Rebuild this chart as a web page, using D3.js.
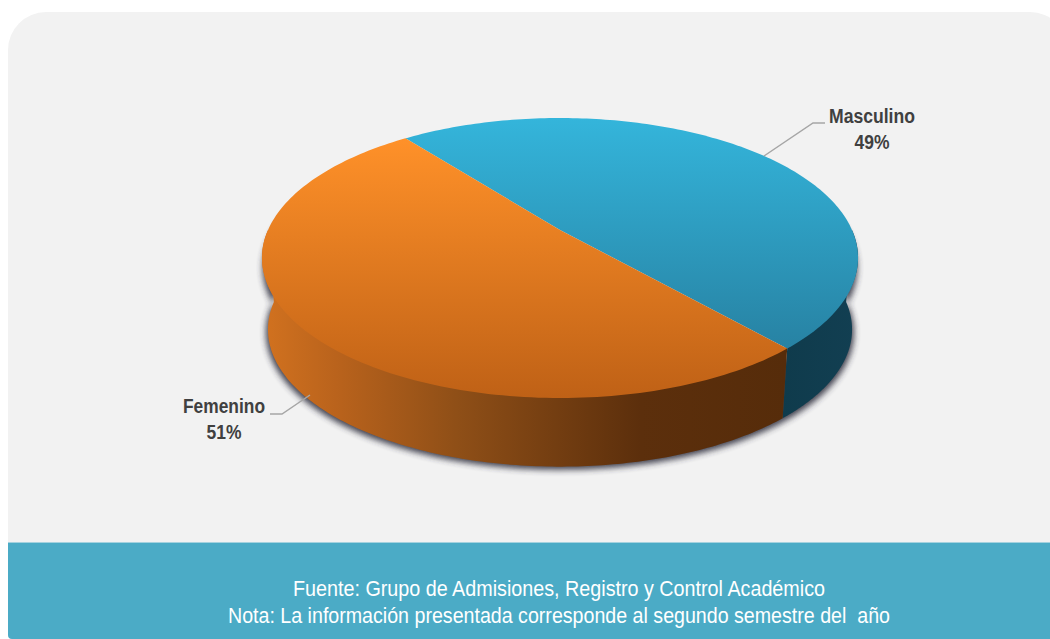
<!DOCTYPE html>
<html><head><meta charset="utf-8">
<script src="https://cdn.jsdelivr.net/npm/d3@7"></script>
<style>html,body{margin:0;padding:0;background:#fff}svg{display:block}</style>
</head><body><div id="c"></div>
<script>
const categories = ["Masculino", "Femenino"];
const values = [49, 51];
const valueLabels = ["49%", "51%"];
const footerLines = [
  "Fuente: Grupo de Admisiones, Registro y Control Académico",
  "Nota: La información presentada corresponde al segundo semestre del  año"
];
const W = 1050, H = 639;
const svg = d3.select("#c").append("svg").attr("width", W).attr("height", H);
const defs = svg.append("defs");
function grad(id, x2, y2, stops){
  const g = defs.append("linearGradient").attr("id", id).attr("x1",0).attr("y1",0).attr("x2",x2).attr("y2",y2);
  stops.forEach(s => g.append("stop").attr("offset", s[0]).attr("stop-color", s[1]));
}
grad("topBlue",0,1,[[0,"#34B5DB"],[1,"#2782A3"]]);
grad("topOrange",0,1,[[0,"#FF9129"],[1,"#BF6116"]]);
grad("sideOrange",1,0,[[0,"#D2721F"],[0.15,"#B8621C"],[0.37,"#8F4F17"],[0.72,"#5C2F0C"],[1,"#562C0A"]]);
grad("sideBlue",1,0,[[0,"#0F3B4C"],[1,"#123F52"]]);
const blur = defs.append("filter").attr("id","shadow").attr("x","-10%").attr("y","-10%").attr("width","120%").attr("height","130%");
blur.append("feGaussianBlur").attr("stdDeviation",3);

// panel
svg.append("rect").attr("x",8).attr("y",12).attr("width",1060).attr("height",600).attr("rx",38).attr("fill","#F2F2F2");
const foot = d3.path();
foot.moveTo(8,543); foot.lineTo(1050,543); foot.lineTo(1050,639); foot.lineTo(12,639);
foot.quadraticCurveTo(8,639,8,635); foot.closePath();
svg.append("path").attr("fill","#4BABC6").attr("d",foot.toString());
svg.append("rect").attr("x",8).attr("y",542).attr("width",1042).attr("height",1).attr("fill","#A5D2DF");

// 3D pie projection
const cx = 560, apexY = 230, R = 292, A = 134.4, persp = 0.2;
const DEPTH = 72;
function project(a, depth){
  const u = Math.sin(a), v = -Math.cos(a);
  const w = 1 - persp*v;
  const scale = 1 - depth*0.02/DEPTH;
  return [cx + u*R/w*scale, apexY + v*A/w*scale + depth];
}
const deg = d => d*Math.PI/180;
const arcs = d3.pie().sort(null).startAngle(deg(-37.8)).endAngle(deg(322.2)).value(d=>d)(values);
const line = d3.line();
const samples = (a0,a1,n=160) => d3.range(n+1).map(i => a0+(a1-a0)*i/n);

// shadow following the lower silhouette
svg.append("path")
  .attr("d", line(samples(deg(75),deg(288)).map(a=>{const p=project(a,DEPTH);return [p[0]+(p[0]<cx?-2:2),p[1]+3];}).concat(samples(deg(288),deg(75)).map(a=>project(a,10))))+"Z")
  .attr("fill","#2e2e3c").attr("opacity",0.9).attr("filter","url(#shadow)");

// side walls (upper edge tucked under the top face at the front only)
const fills = {side:["sideBlue","sideOrange"], top:["topBlue","topOrange"]};
arcs.forEach((d,i)=>{
  const a0 = Math.max(d.startAngle, deg(90)), a1 = Math.min(d.endAngle, deg(270));
  if (a1<=a0) return;
  const s = samples(a0,a1);
  const poly = s.map(a=>project(a,3*Math.cos(a))).concat(s.slice().reverse().map(a=>project(a,DEPTH)));
  svg.append("path").attr("d",line(poly)+"Z").attr("fill",`url(#${fills.side[i]})`);
});
// top surface
arcs.forEach((d,i)=>{
  const s = samples(d.startAngle,d.endAngle);
  const poly = [[cx,apexY]].concat(s.map(a=>project(a,0)));
  svg.append("path").attr("d",line(poly)+"Z").attr("fill",`url(#${fills.top[i]})`);
});

// leaders
function leader(pts){svg.append("path").attr("d",line(pts)).attr("fill","none").attr("stroke","#A6A6A6").attr("stroke-width",1.5);}
leader([[764,156],[813,123],[825,123]]);
leader([[310,395],[282,414],[270,414]]);

// labels
const labelFont='"Liberation Sans", Arial, sans-serif';
const labelPos=[[872,123],[224,413]];
const labelLen=[86,82];
const pctLen=[35,35];
categories.forEach((c,i)=>{
  svg.append("text").attr("x",labelPos[i][0]).attr("y",labelPos[i][1]).attr("text-anchor","middle")
    .attr("font-family",labelFont).attr("font-weight","bold").attr("font-size",19.5).attr("fill","#404040")
    .attr("textLength",labelLen[i]).attr("lengthAdjust","spacingAndGlyphs").text(c);
  svg.append("text").attr("x",labelPos[i][0]).attr("y",labelPos[i][1]+25.5).attr("text-anchor","middle")
    .attr("font-family",labelFont).attr("font-weight","bold").attr("font-size",19.5).attr("fill","#404040")
    .attr("textLength",pctLen[i]).attr("lengthAdjust","spacingAndGlyphs").text(valueLabels[i]);
});
// footer
const footY=[596,623], footLen=[532,662];
footerLines.forEach((t,i)=>{
  svg.append("text").attr("x",559).attr("y",footY[i]).attr("text-anchor","middle")
   .attr("font-family",labelFont).attr("font-size",22).attr("fill","#fff")
   .attr("textLength",footLen[i]).attr("lengthAdjust","spacingAndGlyphs").style("white-space","pre").text(t);
});
</script></body></html>
